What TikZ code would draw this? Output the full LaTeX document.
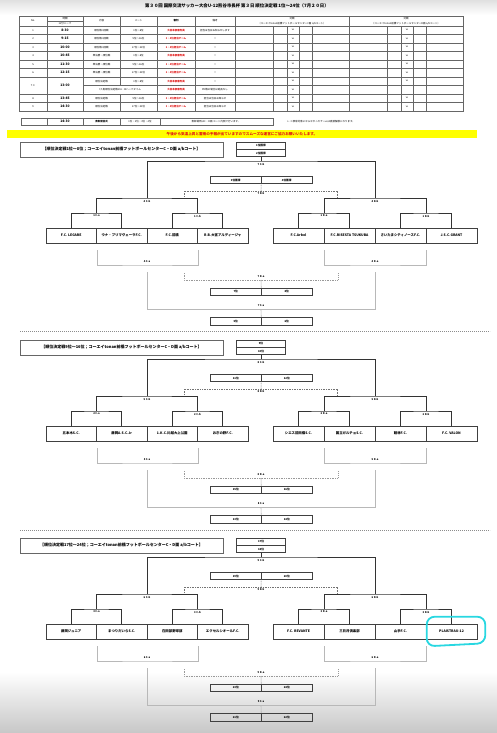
\documentclass[tikz,border=0pt]{standalone}
\usepackage{fontspec}
\setmainfont{Noto Sans CJK JP}
\usetikzlibrary{positioning,calc}
\definecolor{hilite}{RGB}{255,255,0}
\definecolor{redtxt}{RGB}{225,20,20}
\definecolor{marker}{RGB}{40,215,225}
\tikzset{
  gridline/.style={draw=black!60,line width=0.35pt},
  cell/.style={inner sep=0pt,font=\fontsize{2.5}{3}\selectfont},
  team/.style={draw=black!75,line width=0.6pt,minimum width=50.5pt,minimum height=15pt,inner sep=0pt,font=\fontsize{3.4}{3.8}\selectfont\bfseries},
  rank/.style={draw=black!75,line width=0.5pt,minimum width=50.5pt,minimum height=7pt,inner sep=0pt,font=\fontsize{2.7}{3}\selectfont\bfseries},
  winline/.style={draw=black!80,line width=0.7pt},
  loseline/.style={draw=black!28,line width=0.6pt},
  tieline/.style={draw=black!55,line width=0.5pt,dash pattern=on 1pt off 0.7pt},
  lab/.style={inner sep=0pt,font=\fontsize{2.6}{3}\selectfont\bfseries},
  titlebox/.style={draw=black!60,line width=0.5pt,minimum width=203pt,minimum height=15pt,inner sep=0pt,font=\fontsize{4}{4.5}\selectfont\bfseries},
}
\begin{document}
\begin{tikzpicture}[x=1pt,y=-1pt]
\useasboundingbox (0,0) rectangle (497,733);
\fill[top color=black!12,bottom color=white] (0,0) rectangle (497,15);
\fill[top color=white,bottom color=black!22] (0,672) rectangle (497,733);

\node[inner sep=0pt,font=\fontsize{4.4}{5}\selectfont\bfseries] (title) at (237,6) {第３０回\ 国際交流サッカー大会U-12熊谷市長杯 第３日 順位決定戦\ 1位〜24位（7月２０日）};

\draw[gridline] (19,16) rectangle (463,111);
\foreach \y in {26,34.5,43,51.5,60,68.5,77,94,102.5}
  \draw[gridline] (19,\y) -- (463,\y);
\draw[gridline] (83,85.5) -- (463,85.5);
\draw[gridline] (47,21) -- (83,21);
\foreach \x in {47,83,157,195,235,349}
  \draw[gridline] (\x,16) -- (\x,111);
\draw[gridline] (120,16) -- (120,85.5) (120,94) -- (120,111);
\foreach \x in {273,287,299,312,387,401,413,426}
  \draw[gridline] (\x,26) -- (\x,111);
\draw[gridline,line width=0.6pt] (235,16) -- (235,111) (349,16) -- (349,111);

\node[cell] at (33,21) {No.};
\node[cell] at (65,18.5) {時間};
\node[cell] at (65,23.5) {12分ハーフ};
\node[cell] at (101.5,21) {内容};
\node[cell] at (138.5,21) {パート};
\node[cell,font=\fontsize{2.5}{3}\selectfont\bfseries] at (176,21) {審判};
\node[cell] at (215,21) {備考};
\node[cell] at (292,18.5) {対戦};
\node[cell] at (292,23.5) {（コーエイtonan前橋フットボールセンターC面\ a/bコート）};
\node[cell] at (406,18.5) {対戦};
\node[cell] at (406,23.5) {（コーエイtonan前橋フットボールセンターD面\ a/bコート）};

\foreach \y/\n/\tm/\ct/\pt/\rf/\nt in {
  30.25/1/8:30/順位戦\ 1回戦/1位〜8位/大会本部審判員/担当は当日お知らせします,
  38.75/2/9:15/順位戦\ 1回戦/9位〜16位/3・4位担当チーム/〃,
  47.25/3/10:00/順位戦\ 1回戦/17位〜24位/2・4位担当チーム/〃,
  55.75/4/10:45/準決勝・順位戦/1位〜8位/大会本部審判員/〃,
  64.25/5/11:30/準決勝・順位戦/9位〜16位/3・4位担当チーム/〃,
  72.75/6/12:15/準決勝・順位戦/17位〜24位/2・4位担当チーム/〃,
  98.25/8/13:45/順位決定戦/9位〜16位/3・4位担当チーム/担当は当日お知らせ,
  106.75/9/14:30/順位決定戦/17位〜24位/3・4位担当チーム/担当は当日お知らせ}{
  \node[cell] at (33,\y) {\n};
  \node[cell,font=\fontsize{3.3}{4}\selectfont\bfseries] at (65,\y) {\tm};
  \node[cell] at (101.5,\y) {\ct};
  \node[cell] at (138.5,\y) {\pt};
  \node[cell,text=redtxt,font=\fontsize{2.5}{3}\selectfont\bfseries] at (176,\y) {\rf};
  \node[cell] at (215,\y) {\nt};
  \node[cell] at (293,\y) {vs};
  \node[cell] at (407,\y) {vs};
}
\node[cell] at (33,85.5) {7 ※};
\node[cell,font=\fontsize{3.3}{4}\selectfont\bfseries] at (65,85.5) {13:00};
\node[cell] at (101.5,81.25) {順位決定戦};
\node[cell] at (138.5,81.25) {1位〜8位};
\node[cell,text=redtxt,font=\fontsize{2.5}{3}\selectfont\bfseries] at (176,81.25) {大会本部審判員};
\node[cell] at (215,81.25) {〃};
\node[cell] at (120,89.75) {7人制順位決定戦のA・Bハーフタイム};
\node[cell,text=redtxt,font=\fontsize{2.5}{3}\selectfont\bfseries] at (176,89.75) {大会本部審判員};
\node[cell] at (215,89.75) {PK戦の場合は延長なし};
\node[cell] at (293,81.25) {vs};
\node[cell] at (407,81.25) {vs};
\node[cell] at (293,89.75) {vs};

\draw[gridline] (21,118) rectangle (273,125.5);
\foreach \x in {47,83,120,160}
  \draw[gridline] (\x,118) -- (\x,125.5);
\node[cell,font=\fontsize{3.3}{4}\selectfont\bfseries] at (65,121.75) {14:30};
\node[cell,font=\fontsize{2.5}{3}\selectfont\bfseries] at (101.5,121.75) {表彰閉会式};
\node[cell] at (140,121.75) {1位・2位・3位・4位};
\node[cell] at (216,121.75) {表彰場所はC・D面\ コート内側で行います。};
\node[cell,anchor=west] at (287,121.75) {←\ ※表彰対象にならなかったチームは直接解散になります。};

\fill[hilite] (7,130) rectangle (477,137.5);
\node[cell,text=redtxt,font=\fontsize{3.6}{4}\selectfont\bfseries] at (242,133.75) {午後から気温上昇と雷雨の予報が出ていますのでスムーズな運営にご協力お願いいたします。};

\draw[black!45,line width=0.5pt,dash pattern=on 1.2pt off 0.8pt] (20,331) -- (490,331) (20,530) -- (490,530);

\foreach \s/\lo/\hi in {1/1/8,2/9/16,3/17/24}{
  \node[titlebox] (sec\s) at (121.5,149.5+198*\s-198) {【順位決定戦\lo 位〜\hi 位；コーエイtonan前橋フットボールセンターC・D面\ a/bコート】};
}

\foreach \s/\i/\t in {
  1/1/F.C.\ LEGARE, 1/2/ウナ・プリマヴェーラF.C., 1/3/F.C.前橋, 1/4/R.B.大宮アルディージャ,
  1/5/F.C.Arbol, 1/6/F.C.RISESTA TSUKUBA, 1/7/さいたまシティノースF.C., 1/8/J.S.C.GRANT,
  2/1/五本木S.C., 2/2/藤岡A.S.C.Jr, 2/3/1.K.C.川越大上公園, 2/4/おぎの野F.C.,
  2/5/シエス前田橋S.C., 2/6/国立ガルチョS.C., 2/7/館林F.C., 2/8/F.C.\ VALON,
  3/1/藤岡ジュニア, 3/2/まつりだいらS.C., 3/3/在田部野球部, 3/4/エクセルシオールF.C.,
  3/5/F.C.\ REVANTE, 3/6/三日月倶楽部, 3/7/山手F.C., 3/8/PLAISTRAU-12}{
  \pgfmathsetmacro\tx{\i<5 ? 71.25+50.5*(\i-1) : 298.5+51*(\i-5)}
  \pgfmathsetmacro\ty{235.5+198*(\s-1)}
  \ifnum\i>4
    \node[team,minimum width=51pt] (t\s\i) at (\tx,\ty) {\t};
  \else
    \node[team] (t\s\i) at (\tx,\ty) {\t};
  \fi
}

\foreach \s/\ga/\gb/\ha/\hb/\ma/\mb/\na/\nb in {
  1/1位獲得/2位獲得/3位獲得/4位獲得/7位/8位/5位/6位,
  2/9位/10位/11位/12位/15位/16位/13位/14位,
  3/17位/18位/19位/20位/23位/24位/21位/22位}{
  \pgfmathsetmacro\d{198*(\s-1)}
  \pgfmathtruncatemacro\rb{\s+3}
  \pgfmathtruncatemacro\rc{\s+6}
  \coordinate (a\s1) at (96.5,213+\d);
  \coordinate (a\s2) at (197.5,213+\d);
  \coordinate (a\s3) at (324,213+\d);
  \coordinate (a\s4) at (426,213+\d);
  \draw[winline] (t\s1.north) |- (a\s1) -| (t\s2.north);
  \draw[winline] (t\s3.north) |- (a\s2) -| (t\s4.north);
  \draw[winline] (t\s5.north) |- (a\s3) -| (t\s6.north);
  \draw[winline] (t\s7.north) |- (a\s4) -| (t\s8.north);
  \node[lab,below=1.8pt of a\s1] {\s\ C-a};
  \node[lab,below=1.8pt of a\s2] {\s\ C-b};
  \node[lab,below=1.8pt of a\s3] {\s\ D-a};
  \node[lab,below=1.8pt of a\s4] {\s\ D-b};
  \coordinate (b\s1) at (147,198+\d);
  \coordinate (b\s2) at (375,198+\d);
  \draw[winline] (a\s1) |- (b\s1) -| (a\s2);
  \draw[winline] (a\s3) |- (b\s2) -| (a\s4);
  \node[lab,below=2pt of b\s1] {\rb\ C-b};
  \node[lab,below=2pt of b\s2] {\rb\ D-b};
  \node[rank,minimum width=49pt] (g\s1) at (261,145.5+\d) {\ga};
  \node[rank,minimum width=49pt,below=0pt of g\s1] (g\s2) {\gb};
  \coordinate (f\s) at (261,161+\d);
  \draw[winline] (b\s1) |- (f\s) -| (b\s2);
  \draw[winline] (f\s) -- (g\s2.south);
  \node[lab,below=2pt of f\s] {\rc\ C-b};
  \node[rank,minimum height=6.6pt] (h\s1) at (235.75,180+\d) {\ha};
  \node[rank,minimum height=6.6pt,right=0pt of h\s1] (h\s2) {\hb};
  \coordinate (k\s) at (261,191+\d);
  \coordinate (kl\s) at (184,197+\d);
  \coordinate (kr\s) at (337,197+\d);
  \draw[tieline] (kl\s) |- (k\s) -| (kr\s);
  \draw[tieline] (k\s) -- (h\s1.south east);
  \node[lab,below=1.6pt of k\s] {\rc\ D-b};
  \coordinate (p\s1) at (147,265+\d);
  \coordinate (p\s2) at (375,265+\d);
  \draw[loseline] ([yshift=-7pt]t\s1.south east) |- (p\s1) -| ([yshift=-7pt]t\s3.south east);
  \draw[loseline] ([yshift=-7pt]t\s5.south east) |- (p\s2) -| ([yshift=-7pt]t\s7.south east);
  \node[lab,above=2pt of p\s1] {\rb\ C-a};
  \node[lab,above=2pt of p\s2] {\rb\ D-a};
  \coordinate (v\s) at (261,280+\d);
  \coordinate (vl\s) at (184,273+\d);
  \coordinate (vr\s) at (338,273+\d);
  \draw[tieline,draw=black!40] (vl\s) |- (v\s) -| (vr\s);
  \node[lab,above=2pt of v\s] {\rc\ D-a};
  \node[rank] (m\s1) at (235.75,291.5+\d) {\ma};
  \node[rank,right=0pt of m\s1] (m\s2) {\mb};
  \draw[loseline] (v\s) -- (m\s1.north east);
  \coordinate (q\s) at (261,309.5+\d);
  \draw[loseline] ([yshift=-7pt]p\s1) |- (q\s) -| ([yshift=-7pt]p\s2);
  \node[lab,above=2.5pt of q\s] {\rc\ C-a};
  \node[rank,minimum height=8pt] (n\s1) at (235.75,321+\d) {\na};
  \node[rank,minimum height=8pt,right=0pt of n\s1] (n\s2) {\nb};
  \draw[loseline] (q\s) -- (n\s1.north east);
}

\draw[marker,line width=1.8pt,rounded corners=8pt] ([xshift=1pt,yshift=7pt]t38.north west) -- ([xshift=8pt,yshift=7pt]t38.north east) -- ([xshift=8pt,yshift=-4pt]t38.south east) -- ([xshift=1pt,yshift=-7pt]t38.south west) -- cycle;
\end{tikzpicture}
\end{document}
